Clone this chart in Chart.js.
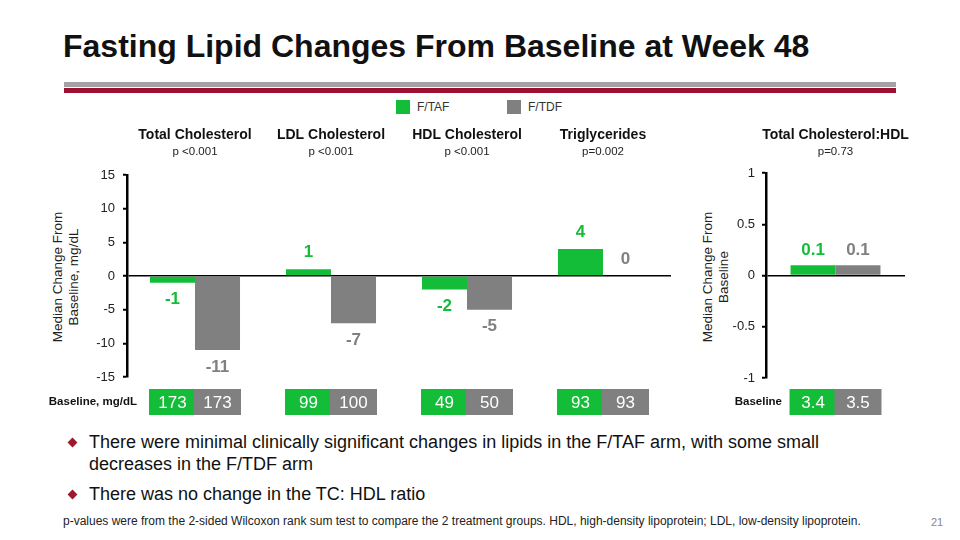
<!DOCTYPE html>
<html>
<head>
<meta charset="utf-8">
<script src="https://cdn.jsdelivr.net/npm/chart.js@4.4.1/dist/chart.umd.min.js"></script>
<style>
  body { margin: 0; width: 960px; height: 540px; position: relative; background: #fff; overflow: hidden;
         font-family: 'Liberation Sans', Arial, sans-serif; color: #111; }
  .abs { position: absolute; white-space: nowrap; }
  .title { left: 63px; top: 30px; font-size: 32px; line-height: 32px; font-weight: bold; color: #111; }
  .rule { left: 64px; width: 832px; height: 5px; }
  .sw { width: 14px; height: 14px; }
  .leg { font-size: 12px; line-height: 14px; color: #333; }
  .ytitle { font-size: 13.5px; line-height: 16px; color: #222; text-align: center; transform: translate(-50%, -50%) rotate(-90deg); }
  .bullet { left: 89px; font-size: 18px; line-height: 22px; color: #111; }
  .diamond { width: 7px; height: 7px; background: #9b1b2c; transform: rotate(45deg); }
  .foot { left: 63px; top: 514px; font-size: 12px; line-height: 14px; color: #222; }
  .page { left: 931px; top: 515px; font-size: 11px; line-height: 14px; color: #888; }
  canvas { position: absolute; }
</style>
</head>
<body>
<div class="abs title">Fasting Lipid Changes From Baseline at Week 48</div>
<div class="abs rule" style="top:82px;background:#a3a3a3"></div>
<div class="abs rule" style="top:88px;background:#9c1030"></div>

<div id="legend"></div>

<div class="abs ytitle" style="left:66px;top:277px">Median Change From<br>Baseline, mg/dL</div>
<div class="abs ytitle" style="left:716px;top:277px">Median Change From<br>Baseline</div>

<div style="position:absolute;left:0;top:120px;width:671px;height:297px"><canvas id="lipids"></canvas></div>
<div style="position:absolute;left:690px;top:120px;width:240px;height:297px"><canvas id="ratio"></canvas></div>

<div class="abs diamond" style="left:68.5px;top:438.5px"></div>
<div class="abs bullet" style="top:431px">There were minimal clinically significant changes in lipids in the F/TAF arm, with some small<br>decreases in the F/TDF arm</div>
<div class="abs diamond" style="left:68.5px;top:490.5px"></div>
<div class="abs bullet" style="top:483px">There was no change in the TC: HDL ratio</div>

<div class="abs foot">p-values were from the 2-sided Wilcoxon rank sum test to compare the 2 treatment groups. HDL, high-density lipoprotein; LDL, low-density lipoprotein.</div>
<div class="abs page">21</div>

<script>
// series
const seriesNames = ['F/TAF', 'F/TDF'];
const seriesColors = ['#14bd38', '#808080'];

// lipid panel, mg/dL
const lipidCategories = ['Total Cholesterol', 'LDL Cholesterol', 'HDL Cholesterol', 'Triglycerides'];
const lipidPValues = ['p <0.001', 'p <0.001', 'p <0.001', 'p=0.002'];
const ftafChange = [-1, 1, -2, 4];
const ftdfChange = [-11, -7, -5, 0];
const ftafBaseline = [173, 99, 49, 93];
const ftdfBaseline = [173, 100, 50, 93];

// TC:HDL ratio panel
const ratioCategories = ['Total Cholesterol:HDL'];
const ratioPValues = ['p=0.73'];
const ftafRatioChange = [0.1];
const ftdfRatioChange = [0.1];
const ftafRatioBaseline = [3.4];
const ftdfRatioBaseline = [3.5];

const FONT = "'Liberation Sans', Arial, sans-serif";

// legend
(function () {
    const lg = document.getElementById('legend');
    const xs = [396, 507];
    seriesNames.forEach((name, i) => {
        lg.insertAdjacentHTML('beforeend',
            `<div class="abs sw" style="left:${xs[i]}px;top:100px;background:${seriesColors[i]}"></div>` +
            `<div class="abs leg" style="left:${xs[i] + 21}px;top:100px">${name}</div>`);
    });
})();

// headers, value labels and baseline boxes
const annotPlugin = {
    id: 'annot',
    afterDatasetsDraw(chart, args, opts) {
        const ctx = chart.ctx;
        ctx.save();
        ctx.font = `bold 17px ${FONT}`;
        ctx.textAlign = 'center';
        ctx.textBaseline = 'middle';
        chart.data.datasets.forEach((ds, i) => {
            chart.getDatasetMeta(i).data.forEach((bar, j) => {
                const v = ds.data[j];
                const y = v < 0 ? bar.y + opts.labelGap : bar.y - opts.labelGap;
                ctx.fillStyle = seriesColors[i];
                ctx.fillText(opts.labels[i][j], bar.x, y);
            });
        });
        ctx.restore();
    },
    afterDraw(chart, args, opts) {
        const ctx = chart.ctx;
        const xs = chart.scales.x;
        ctx.save();
        ctx.textAlign = 'center';
        ctx.textBaseline = 'middle';
        chart.data.labels.forEach((lab, j) => {
            const cx = xs.getPixelForValue(j);
            ctx.fillStyle = '#111';
            ctx.font = `bold 14px ${FONT}`;
            ctx.fillText(lab, cx, 15.5);
            ctx.fillStyle = '#222';
            ctx.font = `11.5px ${FONT}`;
            ctx.fillText(opts.pValues[j], cx, 31.5);
        });
        // baseline row
        const top = 269, h = 26, w = 47;
        chart.data.datasets.forEach((ds, i) => {
            chart.getDatasetMeta(i).data.forEach((bar, j) => {
                ctx.fillStyle = seriesColors[i];
                ctx.fillRect(bar.x - w / 2, top, w, h);
                ctx.fillStyle = '#fff';
                ctx.font = `17px ${FONT}`;
                ctx.fillText(String(opts.baselines[i][j]), bar.x, top + h / 2 + 1);
            });
        });
        ctx.fillStyle = '#111';
        ctx.font = `bold 11.5px ${FONT}`;
        ctx.textAlign = 'right';
        ctx.fillText(opts.rowLabel, opts.rowLabelX, top + h / 2);
        ctx.restore();
    }
};

function makeChart(id, labels, a, b, cfg) {
    return new Chart(document.getElementById(id), {
        type: 'bar',
        data: {
            labels,
            datasets: [
                { label: seriesNames[0], data: a, backgroundColor: seriesColors[0], borderWidth: 0 },
                { label: seriesNames[1], data: b, backgroundColor: seriesColors[1], borderWidth: 0 }
            ]
        },
        options: {
            responsive: true,
            maintainAspectRatio: false,
            animation: false,
            layout: { padding: cfg.padding },
            datasets: { bar: { categoryPercentage: cfg.catPct, barPercentage: 1.0 } },
            plugins: {
                legend: { display: false },
                tooltip: { enabled: false },
                annot: cfg.annot
            },
            scales: {
                x: { display: false },
                y: {
                    min: cfg.min,
                    max: cfg.max,
                    ticks: {
                        stepSize: cfg.step,
                        color: '#222',
                        padding: cfg.tickPad,
                        font: { family: FONT, size: 13 },
                        callback: v => String(v)
                    },
                    grid: {
                        color: c => (c.tick && c.tick.value === 0) ? '#000' : 'rgba(0,0,0,0)',
                        lineWidth: 1.5,
                        tickLength: 4,
                        tickColor: '#000',
                        tickWidth: 2
                    },
                    border: { color: '#000', width: 2.5 },
                    afterFit: s => { s.width = cfg.axisWidth; }
                }
            }
        },
        plugins: [annotPlugin]
    });
}

makeChart('lipids', lipidCategories, ftafChange, ftdfChange, {
    min: -15, max: 15, step: 5, tickPad: 8, axisWidth: 127, catPct: 0.662,
    padding: { top: 55, bottom: 40, left: 0, right: 0 },
    annot: {
        labelGap: 17,
        labels: [ftafChange.map(String), ftdfChange.map(String)],
        pValues: lipidPValues,
        baselines: [ftafBaseline, ftdfBaseline],
        rowLabel: 'Baseline, mg/dL',
        rowLabelX: 137
    }
});

makeChart('ratio', ratioCategories, ftafRatioChange, ftdfRatioChange, {
    min: -1, max: 1, step: 0.5, tickPad: 7, axisWidth: 76, catPct: 0.647,
    padding: { top: 53, bottom: 39, left: 0, right: 25 },
    annot: {
        labelGap: 15,
        labels: [ftafRatioChange.map(String), ftdfRatioChange.map(String)],
        pValues: ratioPValues,
        baselines: [ftafRatioBaseline, ftdfRatioBaseline],
        rowLabel: 'Baseline',
        rowLabelX: 92
    }
});
</script>
</body>
</html>
